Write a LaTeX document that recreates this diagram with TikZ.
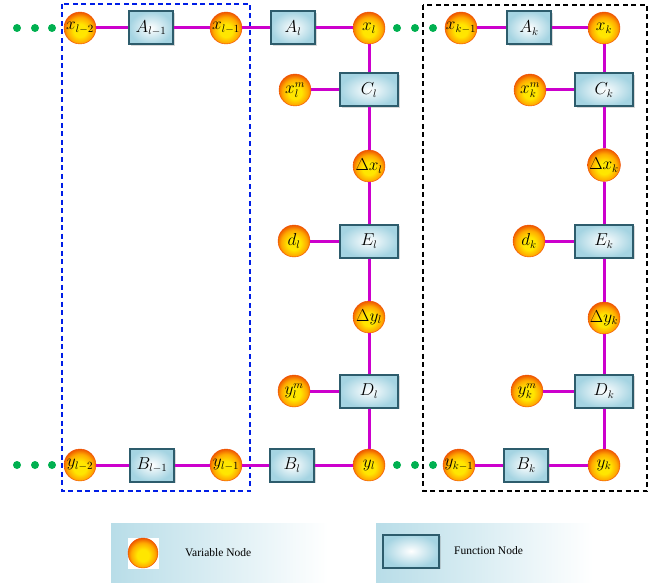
\documentclass[tikz,border=0pt]{standalone}
\usepackage{amsmath,amssymb}
\usepackage{fontspec}
\setmainfont{Liberation Serif}
\usetikzlibrary{shadows}

\definecolor{linkmag}{RGB}{204,0,204}
\definecolor{dotgreen}{RGB}{0,176,80}
\definecolor{boxedge}{RGB}{45,92,108}
\definecolor{boxfill}{RGB}{165,212,226}
\definecolor{ballin}{RGB}{255,230,0}
\definecolor{ballmid}{RGB}{255,170,0}
\definecolor{ballout}{RGB}{238,90,0}
\definecolor{panelblue}{RGB}{184,221,232}
\definecolor{frameblue}{RGB}{0,30,230}

% 球の塗り
\pgfdeclareradialshading{ballshade}{\pgfpoint{0bp}{-5bp}}{%
  color(0bp)=(ballin); color(10bp)=(ballin); color(20bp)=(ballmid);
  color(27bp)=(ballout); color(50bp)=(ballout)}

\tikzset{
  var/.style={circle, minimum size=32pt, inner sep=0pt, draw=ballout!85!red,
    line width=0.4pt, shading=ballshade,
    font=\fontsize{16}{18}\selectfont},
  fun/.style={rectangle, minimum width=#1, minimum height=33pt, inner sep=0pt,
    draw=boxedge, line width=2pt, shading=radial, inner color=white,
    outer color=boxfill,
    drop shadow={opacity=0.3, shadow xshift=1.5pt, shadow yshift=-1.5pt},
    font=\fontsize{16}{18}\selectfont},
  fun/.default=44pt,
  link/.style={linkmag, line width=3pt},
  frame/.style={line width=2.6pt, dash pattern=on 5pt off 3.5pt},
  keytext/.style={anchor=west, inner sep=0pt, font=\fontsize{11.5}{13}\selectfont},
}

\begin{document}
\begin{tikzpicture}[x=1pt, y=-1pt]
  \useasboundingbox (0,0) rectangle (656,583);
  % 枠
  \draw[frame, frameblue] (62,4) rectangle (250,491);
  \draw[frame, black] (423,5) rectangle (647,491);
  % 省略の点
  \foreach \dx in {17,35,52,397,415,433} {
    \fill[dotgreen] (\dx,28) circle (4pt);
    \fill[dotgreen] (\dx,465) circle (4pt);
  }
  % 上段 x
  \node[var] (xl2) at (80,28) {$x_{l-2}$};
  \node[fun] (Al1) at (151,28) {$A_{l-1}$};
  \node[var] (xl1) at (226,28) {$x_{l-1}$};
  \node[fun] (Al) at (293,28) {$A_l$};
  \node[var] (xl) at (369,28) {$x_l$};
  \node[var] (xk1) at (461,28) {$x_{k-1}$};
  \node[fun] (Ak) at (529,28) {$A_k$};
  \node[var] (xk) at (604,28) {$x_k$};
  % 下段 y
  \node[var] (yl2) at (80,465) {$y_{l-2}$};
  \node[fun] (Bl1) at (152,465) {$B_{l-1}$};
  \node[var] (yl1) at (226,465) {$y_{l-1}$};
  \node[fun] (Bl) at (292,465) {$B_l$};
  \node[var] (yl) at (369,465) {$y_l$};
  \node[var] (yk1) at (459,465) {$y_{k-1}$};
  \node[fun] (Bk) at (526,465) {$B_k$};
  \node[var] (yk) at (604,465) {$y_k$};
  % 列 l
  \node[fun=58pt] (Cl) at (369,90) {$C_l$};
  \node[var] (xlm) at (295,90) {$x_l^m$};
  \node[var] (dxl) at (369,166) {$\Delta x_l$};
  \node[fun=58pt] (El) at (369,241) {$E_l$};
  \node[var] (dl) at (294,241) {$d_l$};
  \node[var] (dyl) at (369,317) {$\Delta y_l$};
  \node[fun=58pt] (Dl) at (369,391) {$D_l$};
  \node[var] (ylm) at (294,391) {$y_l^m$};
  % 列 k
  \node[fun=58pt] (Ck) at (604,90) {$C_k$};
  \node[var] (xkm) at (530,90) {$x_k^m$};
  \node[var] (dxk) at (604,165) {$\Delta x_k$};
  \node[fun=58pt] (Ek) at (604,241) {$E_k$};
  \node[var] (dk) at (529,241) {$d_k$};
  \node[var] (dyk) at (604,318) {$\Delta y_k$};
  \node[fun=58pt] (Dk) at (604,391) {$D_k$};
  \node[var] (ykm) at (527,391) {$y_k^m$};
  % 辺
  \draw[link] (xl2) -- (Al1) -- (xl1) -- (Al) -- (xl);
  \draw[link] (xk1) -- (Ak) -- (xk);
  \draw[link] (yl2) -- (Bl1) -- (yl1) -- (Bl) -- (yl);
  \draw[link] (yk1) -- (Bk) -- (yk);
  \draw[link] (xl) -- (Cl) -- (dxl) -- (El) -- (dyl) -- (Dl) -- (yl);
  \draw[link] (xk) -- (Ck) -- (dxk) -- (Ek) -- (dyk) -- (Dk) -- (yk);
  \draw[link] (xlm) -- (Cl);
  \draw[link] (dl) -- (El);
  \draw[link] (ylm) -- (Dl);
  \draw[link] (xkm) -- (Ck);
  \draw[link] (dk) -- (Ek);
  \draw[link] (ykm) -- (Dk);
  % 凡例
  \fill[left color=panelblue, right color=white] (111,523) rectangle (328,583);
  \fill[left color=panelblue, right color=white] (376,523) rectangle (593,583);
  \fill[white] (128,538) rectangle (159,569);
  \node[var, minimum size=30pt] (varkey) at (143,553) {};
  \node[keytext] (vartext) at (185,553) {Variable Node};
  \node[fun=56pt] (funkey) at (411,551) {};
  \node[keytext] (funtext) at (454,551) {Function Node};
\end{tikzpicture}
\end{document}
